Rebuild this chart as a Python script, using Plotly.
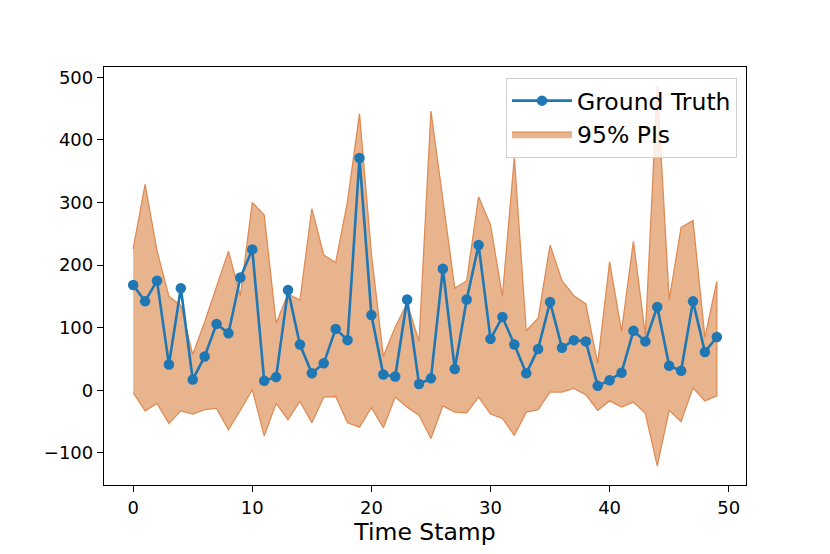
import plotly.graph_objects as go

# time stamps and values
time_stamp = list(range(50))
ground_truth = [168, 142, 175, 41, 163, 17, 54, 106, 91, 180,
                225, 15, 21, 160, 73, 27, 43, 98, 80, 371,
                120, 25, 22, 145, 10, 19, 194, 34, 145, 232,
                82, 117, 73, 27, 66, 141, 68, 80, 78, 7,
                16, 28, 95, 78, 133, 39, 31, 142, 61, 85]
pi_upper = [226, 329, 223, 150, 135, 57, 109, 167, 222, 151,
            300, 280, 107, 154, 144, 290, 216, 204, 302, 442,
            218, 54, 101, 139, 78, 446, 300, 163, 175, 309,
            264, 150, 372, 95, 115, 232, 175, 151, 138, 43,
            205, 94, 238, 88, 486, 144, 260, 271, 84, 174]
pi_lower = [-4, -33, -21, -53, -33, -38, -31, -29, -63, -32,
            1, -73, -21, -47, -18, -52, -11, -10, -52, -59,
            -28, -60, -11, -27, -40, -77, -25, -35, -36, -11,
            -38, -45, -72, -35, -31, -3, -3, 3, -7, -32,
            -17, -27, -19, -37, -121, -32, -50, 4, -17, -9]

x_ticks = [0, 10, 20, 30, 40, 50]
y_ticks = [-100, 0, 100, 200, 300, 400, 500]

font = "DejaVu Sans"

fig = go.Figure()

# band as one closed polygon: upper edge forward, lower edge back
fig.add_trace(go.Scatter(
    x=time_stamp + time_stamp[::-1],
    y=pi_upper + pi_lower[::-1],
    fill="toself",
    fillcolor="rgb(232,180,141)",
    line=dict(color="rgb(222,140,86)", width=1.3),
    mode="lines",
    name="95% PIs",
    legendrank=2,
    hoverinfo="skip",
))

fig.add_trace(go.Scatter(
    x=time_stamp,
    y=ground_truth,
    mode="lines+markers",
    line=dict(color="#1f77b4", width=2.6),
    marker=dict(color="#1f77b4", size=10.5),
    name="Ground Truth",
    legendrank=1,
))

axis_style = dict(
    showline=True, linecolor="black", linewidth=1.3, mirror=True,
    showgrid=False, zeroline=False,
    ticks="outside", ticklen=6, tickwidth=1.3, tickcolor="black",
    tickfont=dict(family=font, size=18, color="black"),
)

fig.update_xaxes(
    range=[-2.45, 51.45], tickvals=x_ticks,
    title=dict(text="Time Stamp", font=dict(family=font, size=23.5, color="black"), standoff=6),
    **axis_style,
)
fig.update_yaxes(range=[-151.4, 516.4], tickvals=y_ticks, **axis_style)

fig.update_layout(
    width=830, height=554,
    margin=dict(l=96, r=92, t=59, b=77),
    plot_bgcolor="white", paper_bgcolor="white",
    font=dict(family=font, color="black"),
    legend=dict(
        x=0.986, y=0.974, xanchor="right", yanchor="top",
        bgcolor="rgba(255,255,255,0.8)", bordercolor="#d0d0d0", borderwidth=1,
        font=dict(family=font, size=23.5, color="black"),
        itemwidth=60,
    ),
    showlegend=True,
)

fig.write_html("out.html")
